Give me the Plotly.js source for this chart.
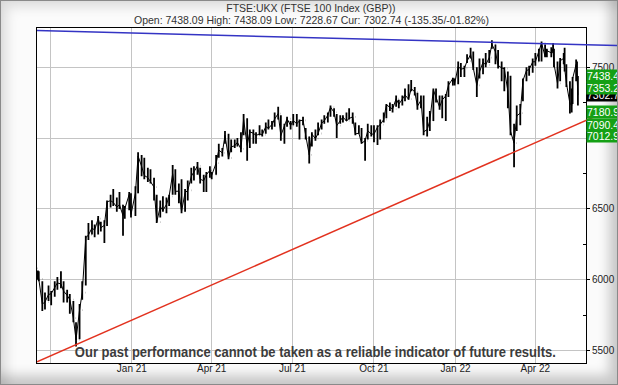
<!DOCTYPE html>
<html><head><meta charset="utf-8">
<script src="https://cdn.plot.ly/plotly-3.0.1.min.js"></script>
<style>
html,body{margin:0;padding:0;background:#fff;}
#frame{position:relative;width:618px;height:385px;box-sizing:border-box;border:1px solid #8a8a8a;background:#fbfbfb;
  box-shadow:inset -8px -9px 12px rgba(0,0,0,0.20), inset 6px 6px 12px rgba(0,0,0,0.12);overflow:hidden;}
#chart{position:absolute;left:-1px;top:-1px;width:618px;height:385px;}
</style></head><body>
<div id="frame"><div id="chart"></div></div>
<script>
// ---- price bars (FTSE 100) ----
const dates = [
'2020-09-17','2020-09-18','2020-09-22','2020-09-25','2020-09-29','2020-10-02','2020-10-06','2020-10-09','2020-10-13','2020-10-16','2020-10-20','2020-10-23','2020-10-27','2020-10-30',
'2020-11-03','2020-11-06','2020-11-10','2020-11-13','2020-11-17','2020-11-20','2020-11-24','2020-11-27','2020-12-01','2020-12-04','2020-12-08','2020-12-11','2020-12-15','2020-12-18','2020-12-22','2020-12-24','2020-12-29','2020-12-31',
'2021-01-05','2021-01-08','2021-01-12','2021-01-15','2021-01-19','2021-01-22','2021-01-26','2021-01-29','2021-02-02','2021-02-05','2021-02-09','2021-02-12','2021-02-16','2021-02-19','2021-02-23','2021-02-26',
'2021-03-02','2021-03-05','2021-03-09','2021-03-12','2021-03-16','2021-03-19','2021-03-23','2021-03-26','2021-03-30','2021-04-01','2021-04-06','2021-04-09','2021-04-13','2021-04-16','2021-04-20','2021-04-23','2021-04-27','2021-04-30',
'2021-05-04','2021-05-07','2021-05-11','2021-05-14','2021-05-18','2021-05-21','2021-05-25','2021-05-28','2021-06-01','2021-06-04','2021-06-08','2021-06-11','2021-06-15','2021-06-18','2021-06-22','2021-06-25','2021-06-29',
'2021-07-02','2021-07-06','2021-07-09','2021-07-13','2021-07-16','2021-07-20','2021-07-23','2021-07-27','2021-07-30','2021-08-03','2021-08-06','2021-08-10','2021-08-13','2021-08-17','2021-08-20','2021-08-24','2021-08-27','2021-08-31',
'2021-09-03','2021-09-07','2021-09-10','2021-09-14','2021-09-17','2021-09-21','2021-09-24','2021-09-28','2021-10-01','2021-10-05','2021-10-08','2021-10-12','2021-10-15','2021-10-19','2021-10-22','2021-10-26','2021-10-29',
'2021-11-02','2021-11-05','2021-11-09','2021-11-12','2021-11-16','2021-11-19','2021-11-23','2021-11-26','2021-11-30','2021-12-03','2021-12-07','2021-12-10','2021-12-14','2021-12-17','2021-12-21','2021-12-24','2021-12-29','2021-12-31',
'2022-01-04','2022-01-07','2022-01-11','2022-01-14','2022-01-18','2022-01-21','2022-01-25','2022-01-28','2022-02-01','2022-02-04','2022-02-08','2022-02-11','2022-02-15','2022-02-18','2022-02-22','2022-02-25',
'2022-03-01','2022-03-04','2022-03-08','2022-03-11','2022-03-15','2022-03-18','2022-03-22','2022-03-25','2022-03-29','2022-04-01','2022-04-05','2022-04-08','2022-04-12','2022-04-14','2022-04-19','2022-04-21','2022-04-22','2022-04-26','2022-04-29',
'2022-05-03','2022-05-04','2022-05-06','2022-05-10','2022-05-12','2022-05-13','2022-05-17','2022-05-18','2022-05-19'
];
const highs = [
6065,6060,5990,5910,5960,5920,5990,6020,6060,5990,5930,5900,5850,5700,
5830,5990,6310,6400,6420,6390,6450,6410,6420,6560,6600,6640,6580,6620,6530,6520,6620,6610,
6660,6900,6880,6860,6790,6780,6720,6600,6560,6590,6580,6600,6810,6780,6680,6710,
6640,6700,6790,6800,6830,6790,6740,6760,6800,6760,6880,6960,6930,7050,7030,6990,6990,7000,
7040,7170,7140,7060,7060,7040,7090,7060,7110,7130,7120,7180,7220,7160,7100,7150,7120,
7170,7170,7130,7150,7070,7010,7040,7060,7110,7130,7160,7180,7230,7210,7170,7160,7160,7180,
7210,7180,7110,7090,7070,7000,7100,7090,7090,7090,7130,7180,7240,7250,7240,7300,7270,
7300,7350,7380,7410,7360,7320,7300,7300,7150,7190,7350,7350,7300,7300,7310,7400,7425,7420,
7540,7530,7510,7590,7636,7610,7500,7560,7560,7600,7620,7690,7660,7620,7540,7500,
7470,7440,7100,7230,7240,7420,7500,7510,7560,7600,7630,7680,7660,7630,7640,7670,7630,7540,7565,
7600,7636,7520,7400,7350,7430,7553,7540,7438.09
];
const lows = [
6000,5990,5780,5790,5850,5820,5880,5930,5940,5840,5840,5760,5700,5530,
5580,5860,5960,6280,6320,6300,6320,6340,6260,6380,6510,6520,6480,6500,6310,6430,6490,6440,
6450,6610,6730,6710,6690,6680,6560,6400,6440,6480,6470,6520,6600,6600,6540,6470,
6480,6560,6680,6700,6740,6680,6620,6620,6720,6710,6740,6860,6870,6960,6850,6900,6930,6940,
6900,7020,6840,6930,6960,6960,7020,7010,7030,7060,7060,7080,7130,6980,6960,7080,7060,
7090,7080,6990,7090,6990,6820,6940,6980,7020,7060,7100,7110,7150,7150,7000,7100,7110,7120,
7130,7100,7020,7030,6960,6840,6990,7010,6970,6950,6990,7110,7140,7190,7180,7220,7210,
7230,7260,7270,7330,7300,7200,7210,7020,7010,7050,7120,7250,7200,7140,7120,7290,7370,7370,
7380,7430,7430,7530,7560,7480,7290,7420,7450,7500,7530,7630,7520,7490,7400,7330,
7210,7020,6794,7050,7090,7260,7400,7440,7460,7510,7540,7540,7570,7570,7570,7600,7500,7350,7400,
7520,7470,7360,7173,7180,7240,7400,7420,7228.67
];
const closes = [
6050,6007,5829,5843,5896,5902,5950,5978,5970,5920,5890,5860,5730,5577,
5786,5910,6296,6316,6365,6351,6432,6367,6384,6550,6558,6546,6513,6529,6453,6502,6602,6461,
6612,6873,6799,6736,6720,6695,6654,6407,6516,6489,6531,6589,6748,6624,6625,6483,
6614,6630,6730,6761,6803,6709,6699,6741,6772,6737,6823,6915,6895,7019,6859,6938,6945,6970,
6923,7130,6948,7043,7034,7018,7029,7022,7080,7069,7095,7134,7172,7017,7090,7136,7088,
7123,7100,7122,7125,7008,6881,7027,6996,7032,7105,7122,7161,7218,7181,7087,7125,7148,7120,
7138,7149,7029,7034,6964,6980,7051,7028,7027,7077,7095,7130,7234,7217,7204,7277,7238,
7274,7304,7274,7348,7326,7224,7266,7044,7059,7122,7339,7291,7218,7269,7297,7372,7420,7385,
7505,7485,7492,7543,7589,7494,7371,7466,7535,7516,7567,7661,7608,7513,7494,7489,
7330,7047,6964,7156,7176,7405,7476,7483,7537,7538,7613,7669,7576,7616,7601,7628,7522,7386,7545,
7562,7493,7388,7243,7233,7418,7519,7438.09,7302.74
];
const firstOpen = 6080;

// ---- trend lines ----
const blueDates = ['2020-09-16', '2022-05-28 03:00'];
const blueVals  = [7758, 7658];
const blueExt   = [7658, 7652];
const redDates  = ['2020-09-16', '2022-05-28 03:00'];
const redVals   = [5422, 7124];
const redExt    = [7124, 7161];

// ---- axis ticks ----
const xTickVals = ['2020-10-01','2021-01-01','2021-04-01','2021-07-01','2021-10-01','2022-01-01','2022-04-01'];
const xTickText = ['','Jan 21','Apr 21','Jul 21','Oct 21','Jan 22','Apr 22'];
const yTickVals = [5500,6000,6500,7000,7500];
const yMinorVals = [5750,6250,6750,7250];

// ---- right-hand level labels ----
const levelVals  = [7302.74, 7438.4, 7353.2, 7180.9, 7090.4, 7012.9];
const levelText  = ['7302.7','7438.4','7353.2','7180.9','7090.4','7012.9'];
const levelColor = ['#000000','#15a015','#15a015','#15a015','#15a015','#15a015'];

const titleText = 'FTSE:UKX (FTSE 100 Index (GBP))';
const subText = 'Open: 7438.09 High: 7438.09 Low: 7228.67 Cur: 7302.74 (-135.35/-01.82%)';
const disclaimer = 'Our past performance cannot be taken as a reliable indicator of future results.';

const opens = [firstOpen].concat(closes.slice(0, -1));

const traces = [
  {type:'scatter', mode:'lines', x:dates, y:closes, line:{color:'#000', width:1}, hoverinfo:'skip'},
  {type:'ohlc', x:dates, open:opens, high:highs, low:lows, close:closes,
   increasing:{line:{color:'#000', width:1.8}}, decreasing:{line:{color:'#000', width:1.8}},
   tickwidth:0.2, hoverinfo:'skip', showlegend:false},
  {type:'scatter', mode:'lines', x:blueDates, y:blueVals, line:{color:'#3434c4', width:1.5}, hoverinfo:'skip'},
  {type:'scatter', mode:'lines', x:redDates, y:redVals, line:{color:'#e2321f', width:1.5}, hoverinfo:'skip'}
];

const annotations = [
  {text:subText, xref:'paper', yref:'paper', x:0.4991, y:1.0239, xanchor:'center', yanchor:'middle', showarrow:false,
   font:{size:10.5, color:'#333'}},
  {text:'<b>'+disclaimer+'</b>', xref:'paper', yref:'paper', x:0.5065, y:0.0328, xanchor:'center', yanchor:'middle', showarrow:false,
   font:{family:'Liberation Sans, Arial, sans-serif', size:14.5, color:'#3c3c3c'}}
];
levelVals.forEach((v, i) => {
  annotations.push({text:levelText[i] + '\u00a0\u00a0', xref:'paper', yref:'y', x:1, y:v, xanchor:'left', yanchor:'middle',
    align:'left', showarrow:false, bgcolor:levelColor[i], borderpad:0, font:{size:10.5, color:'#fff'}});
});

const layout = {
  width:618, height:385,
  margin:{l:37, r:32, t:28, b:22, pad:0},
  paper_bgcolor:'rgba(0,0,0,0)', plot_bgcolor:'#ffffff',
  showlegend:false,
  font:{family:'Liberation Sans, Arial, sans-serif', size:10, color:'#222'},
  title:{text:titleText, x:0.503, xanchor:'center', y:0.978, yanchor:'middle', yref:'container',
         font:{size:10.5, color:'#333'}},
  xaxis:{type:'date', range:['2020-09-16','2022-05-28 03:00'], tickmode:'array', tickvals:xTickVals, ticktext:xTickText,
         showgrid:true, gridcolor:'#c4c4c4', gridwidth:1, showline:true, mirror:true, linecolor:'#000', linewidth:1,
         ticks:'', ticklabelstandoff:-4, zeroline:false, rangeslider:{visible:false}, fixedrange:true, tickfont:{size:10, color:'#222'}},
  yaxis:{side:'right', range:[5413, 7776], tickmode:'array', tickvals:yTickVals,
         showgrid:true, gridcolor:'#c4c4c4', gridwidth:1, showline:true, mirror:true, linecolor:'#000', linewidth:1,
         ticks:'outside', ticklen:3, tickcolor:'#000', zeroline:false, fixedrange:true,
         minor:{tickvals:yMinorVals, ticks:'inside', ticklen:3, tickcolor:'#000', showgrid:false},
         tickfont:{size:10, color:'#222'}},
  shapes:[
    {type:'line', xref:'paper', yref:'y', x0:1, x1:1.0583, y0:blueExt[0], y1:blueExt[1], line:{color:'#3434c4', width:1.5}},
    {type:'line', xref:'paper', yref:'y', x0:1, x1:1.0219, y0:redExt[0], y1:redExt[1], line:{color:'#e2321f', width:1.5}}
  ],
  annotations:annotations
};

Plotly.newPlot('chart', traces, layout, {displayModeBar:false, staticPlot:true}).then(function(gd){
  // condense the disclaimer to the narrow width it has in the original
  var t = gd.querySelector('g.annotation[data-index="1"] text.annotation-text');
  if (t) { t.setAttribute('textLength', '481'); t.setAttribute('lengthAdjust', 'spacingAndGlyphs'); }
});
</script>
</body></html>
